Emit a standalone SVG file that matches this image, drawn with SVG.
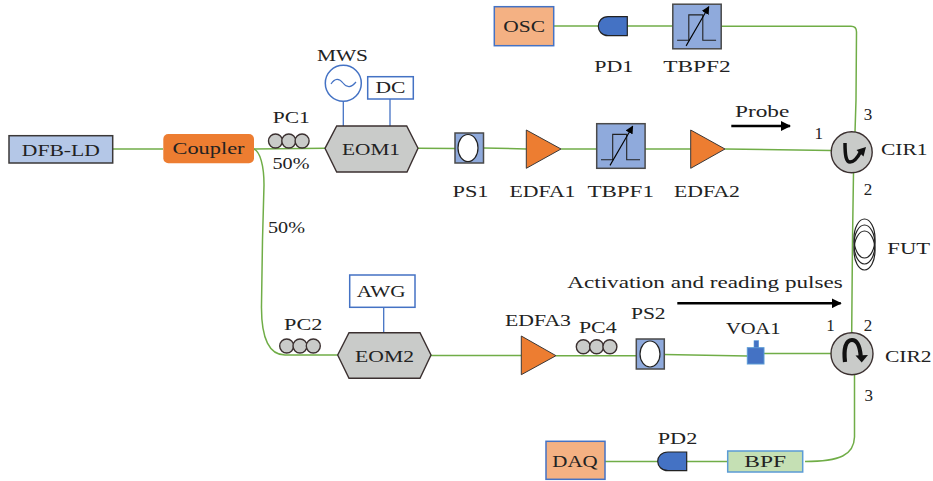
<svg xmlns="http://www.w3.org/2000/svg" width="933" height="481" viewBox="0 0 933 481">
<defs>
<style>
text{font-family:"Liberation Serif","DejaVu Serif",serif;font-size:17px;fill:#222;text-anchor:middle}
.f{fill:none;stroke:#70ad47;stroke-width:1.5}
.e{fill:none;stroke:#4472c4;stroke-width:1.3}
.b{fill:#fff;stroke:#4472c4;stroke-width:1.5}
.g{fill:#c9cbc9;stroke:#3b3030;stroke-width:1.4}
.amp{fill:#ed7d31;stroke:#3b3838;stroke-width:1}
.flt{fill:#8faadc;stroke:#4a4a4a;stroke-width:1.5}
.pd{fill:#4472c4;stroke:#222;stroke-width:1.2}
.og{fill:#f4b183;stroke:#4472c4;stroke-width:1.5}
.k{fill:none;stroke:#222;stroke-width:1.1}
.w{fill:#fff;stroke:#222;stroke-width:1.2}
.coil{fill:none;stroke:#222;stroke-width:1.2}
</style>
<marker id="ah" viewBox="0 0 10 10" refX="9" refY="5" markerWidth="10" markerHeight="10" markerUnits="userSpaceOnUse" orient="auto"><path d="M0 0L10 5L0 10Z" fill="#000"/></marker>
<marker id="as" viewBox="0 0 10 10" refX="9" refY="5" markerWidth="8" markerHeight="8" markerUnits="userSpaceOnUse" orient="auto"><path d="M0 0L10 5L0 10Z" fill="#000"/></marker>
<g id="pcs"><circle class="g" cx="0" cy="0" r="7"/><circle class="g" cx="13.3" cy="0" r="7"/><circle class="g" cx="26.6" cy="0" r="7"/></g>
<g id="tb"><rect class="flt" x="0" y="0" width="48.4" height="44.6"/><polyline class="k" points="4.3,36 16,36 16,10.7 30,10.7 30,36 43.3,36"/><line x1="13.3" y1="41.7" x2="36" y2="2.5" stroke="#000" stroke-width="1.1" marker-end="url(#as)"/></g>
</defs>
<g id="connectors">
<path class="f" d="M113 149H163"/>
<path class="f" d="M254 149L325 148.3"/>
<path class="f" d="M254 149C260 152 264 165 264 185L262.500 240L261.500 305C261 340 270 355 285 355L338 355"/>
<path class="f" d="M418 148.300L455 148.500"/>
<path class="f" d="M483.500 148L526.300 149"/>
<path class="f" d="M561 149H597"/>
<path class="f" d="M645 149H690.700"/>
<path class="f" d="M725 149L831 150.500"/>
<path class="f" d="M553.700 26H598.300"/>
<path class="f" d="M627.300 26H672.700"/>
<path class="f" d="M721.300 26.300H851C855 26.300 856.500 28.500 856.500 32L856 100L855 132"/>
<path class="f" d="M853.500 172.800L852.500 240L851.700 333"/>
<path class="f" d="M431 355.500H521.300"/>
<path class="f" d="M556 355.700H636.300"/>
<path class="f" d="M664.300 354.500L747.300 356"/>
<path class="f" d="M764 353.500H831"/>
<path class="f" d="M854.500 374V437C854 455 840 461.500 805 461.500"/>
<path class="f" d="M605 461.500H657.700"/>
<path class="f" d="M686.700 461.500H727.700"/>
<path class="e" d="M343.300 101.300V126"/>
<path class="e" d="M390 99V126"/>
<path class="e" d="M383.700 307.300V332.700"/>
<line x1="731.300" y1="126" x2="790" y2="126" stroke="#000" stroke-width="2.600" marker-end="url(#ah)"/>
<line x1="677.300" y1="303.300" x2="840.700" y2="303.300" stroke="#000" stroke-width="2.600" marker-end="url(#ah)"/>
</g>
<g id="dfb"><rect x="9" y="135.700" width="103.700" height="27.300" fill="#b4c7e7" stroke="#3b3838" stroke-width="1.500"/><text x="60.800" y="155.700" textLength="78" lengthAdjust="spacingAndGlyphs">DFB-LD</text></g>
<g id="coupler"><rect x="163.300" y="134" width="90.700" height="29.300" rx="5" fill="#ed7d31"/><text x="208.500" y="154" textLength="72" lengthAdjust="spacingAndGlyphs">Coupler</text></g>
<g id="pc1"><use href="#pcs" x="275.500" y="141"/><text x="291.300" y="122.700" textLength="37" lengthAdjust="spacingAndGlyphs">PC1</text></g>
<g id="split1"><text x="291" y="169" textLength="37" lengthAdjust="spacingAndGlyphs">50%</text></g>
<g id="split2"><text x="286.500" y="233" textLength="37" lengthAdjust="spacingAndGlyphs">50%</text></g>
<g id="mws"><circle class="b" cx="343.300" cy="83.300" r="18"/><path d="M331 84C335 78 339 78 343 83C347 88 351 88 356 82" fill="none" stroke="#4472c4" stroke-width="1.200"/><text x="342.500" y="61" textLength="51" lengthAdjust="spacingAndGlyphs">MWS</text></g>
<g id="dc"><rect class="b" x="367.700" y="76.700" width="45.600" height="22.300"/><text x="390.500" y="93" textLength="30" lengthAdjust="spacingAndGlyphs">DC</text></g>
<g id="eom1"><polygon class="g" points="325,148.300 336.700,126 406.700,126 418,148.300 407,172 336.700,172"/><text x="371" y="155.300" textLength="58" lengthAdjust="spacingAndGlyphs">EOM1</text></g>
<g id="ps1"><rect class="flt" x="455" y="133" width="28.500" height="30"/><ellipse class="w" cx="468" cy="148" rx="10" ry="13.500"/><text x="470.500" y="196.700" textLength="36" lengthAdjust="spacingAndGlyphs">PS1</text></g>
<g id="edfa1"><polygon class="amp" points="526.300,130 561,149 526.300,168.300"/><text x="542.500" y="196.700" textLength="66" lengthAdjust="spacingAndGlyphs">EDFA1</text></g>
<g id="tbpf1"><use href="#tb" x="596.700" y="123.700"/><text x="620.700" y="196.700" textLength="66.500" lengthAdjust="spacingAndGlyphs">TBPF1</text></g>
<g id="edfa2"><polygon class="amp" points="690.700,130 725,149 690.700,168.300"/><text x="707" y="196.700" textLength="66" lengthAdjust="spacingAndGlyphs">EDFA2</text></g>
<g id="osc"><rect class="og" x="494.300" y="6.700" width="59.400" height="39"/><text x="524.200" y="32.300" textLength="41.700" lengthAdjust="spacingAndGlyphs">OSC</text></g>
<g id="pd1"><path class="pd" d="M627.300 16.700V35.700H608C602 35.700 598.300 31 598.300 26.200C598.300 21 602 16.700 608 16.700Z"/><text x="613.800" y="72" textLength="39" lengthAdjust="spacingAndGlyphs">PD1</text></g>
<g id="tbpf2"><use href="#tb" x="672.800" y="4.200"/><text x="697" y="72" textLength="67.400" lengthAdjust="spacingAndGlyphs">TBPF2</text></g>
<g id="probe"><text x="762.200" y="116.700" textLength="54.300" lengthAdjust="spacingAndGlyphs">Probe</text></g>
<g id="cir1"><circle class="g" cx="851.700" cy="152.300" r="20.500"/><path d="M845 143C845 155 846 162 850 162C854 162 858 157 861 151" fill="none" stroke="#111" stroke-width="3.500"/><path d="M856.500 150L866 147L863.500 156.500Z" fill="#111"/><text x="818.800" y="139.300">1</text><text x="868" y="120">3</text><text x="868" y="195">2</text><text x="904.300" y="155" textLength="46.700" lengthAdjust="spacingAndGlyphs">CIR1</text></g>
<g id="fut"><ellipse class="coil" cx="864.500" cy="238.500" rx="10.500" ry="19.500"/><ellipse class="coil" cx="864.500" cy="244.500" rx="10.500" ry="19.500"/><ellipse class="coil" cx="864.500" cy="250.500" rx="10.500" ry="19.500"/><text x="908.700" y="254" textLength="42.700" lengthAdjust="spacingAndGlyphs">FUT</text></g>
<g id="pulses"><text x="705" y="288.300" textLength="275.400" lengthAdjust="spacingAndGlyphs">Activation and reading pulses</text></g>
<g id="awg"><rect class="b" x="349.700" y="275" width="65.300" height="32.300"/><text x="381.200" y="297.300" textLength="49" lengthAdjust="spacingAndGlyphs">AWG</text></g>
<g id="pc2"><use href="#pcs" x="286.700" y="346"/><text x="303.200" y="330" textLength="38.300" lengthAdjust="spacingAndGlyphs">PC2</text></g>
<g id="eom2"><polygon class="g" points="337.700,355 349,332.700 420,332.700 431,355 420,378.300 349,378.300"/><text x="384.500" y="361.700" textLength="59" lengthAdjust="spacingAndGlyphs">EOM2</text></g>
<g id="edfa3"><polygon class="amp" points="521.300,336 556,355.700 521.300,374.700"/><text x="538" y="326" textLength="66" lengthAdjust="spacingAndGlyphs">EDFA3</text></g>
<g id="pc4"><use href="#pcs" x="583.300" y="346.700"/><text x="597.800" y="332.700" textLength="37.700" lengthAdjust="spacingAndGlyphs">PC4</text></g>
<g id="ps2"><rect class="flt" x="636.300" y="339" width="28" height="30"/><ellipse class="w" cx="650" cy="354" rx="10" ry="13"/><text x="648.300" y="318.700" textLength="34.700" lengthAdjust="spacingAndGlyphs">PS2</text></g>
<g id="voa1"><rect x="747.300" y="347.700" width="16.700" height="16.300" fill="#4472c4" stroke="#5b9bd5"/><rect x="754" y="340.700" width="4.700" height="7" fill="#4472c4" stroke="#5b9bd5" stroke-width=".6"/><text x="753.300" y="334.300" textLength="54.700" lengthAdjust="spacingAndGlyphs">VOA1</text></g>
<g id="cir2"><circle class="g" cx="852" cy="353.700" r="21"/><path d="M845 362C843.500 349 845.500 340 852 340C858 340 860 348 860.700 356" fill="none" stroke="#111" stroke-width="4.200"/><path d="M855.500 355.500L868 355L861.700 362.500Z" fill="#111"/><text x="830.500" y="331">1</text><text x="868" y="331">2</text><text x="868.700" y="401">3</text><text x="908.300" y="362.300" textLength="46.700" lengthAdjust="spacingAndGlyphs">CIR2</text></g>
<g id="daq"><rect class="og" x="546" y="441.300" width="59" height="38"/><text x="575" y="466.700" textLength="45.400" lengthAdjust="spacingAndGlyphs">DAQ</text></g>
<g id="pd2"><path class="pd" d="M686.700 452V470.700H668C661.500 470.700 657.700 466 657.700 461.300C657.700 456.500 661.500 452 668 452Z"/><text x="677.500" y="444" textLength="39.600" lengthAdjust="spacingAndGlyphs">PD2</text></g>
<g id="bpf"><rect x="727.700" y="451" width="75" height="21" fill="#c5e0b4" stroke="#5b9bd5" stroke-width="1.500"/><text x="765.200" y="466.700" textLength="41.700" lengthAdjust="spacingAndGlyphs">BPF</text></g>
</svg>
